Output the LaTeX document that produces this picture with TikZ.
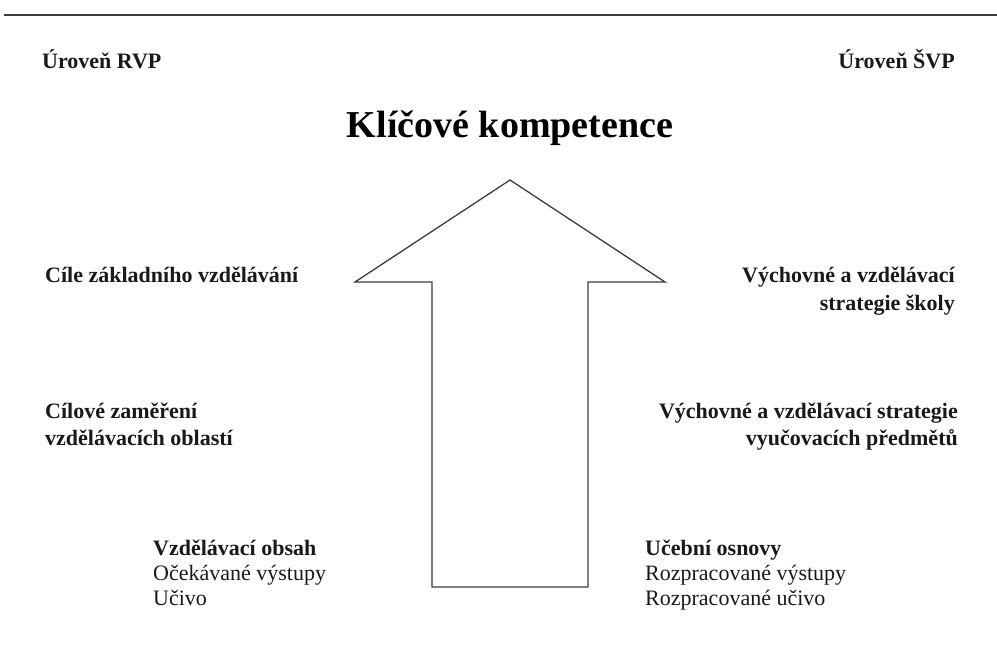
\documentclass[tikz,border=0pt]{standalone}
\usepackage{fontspec}
\setmainfont{Liberation Serif}
\usepackage{tikz}
\usetikzlibrary{positioning}
\definecolor{lvline}{RGB}{60, 60, 60}
\definecolor{lvtext}{RGB}{25, 25, 25}

\begin{document}
\begin{tikzpicture}[x=1pt, y=-1pt,
  level/.style={font=\fontsize{22}{26}\selectfont\bfseries, text=lvtext, inner sep=0pt},
  goal/.style={font=\fontsize{22}{27}\selectfont\bfseries, text=lvtext, inner sep=0pt},
  content/.style={font=\fontsize{22}{25}\selectfont, text=lvtext, inner sep=0pt, align=left}]

  \useasboundingbox (0,0) rectangle (997,659);
  \draw[lvline, line width=2pt] (4,15) -- (997,15);

  % levels
  \node[level, anchor=base west] (rvp) at (42,68) {Úroveň RVP};
  \node[level, anchor=base east] (svp) at (955,68) {Úroveň ŠVP};
  \node[font=\fontsize{38}{40}\selectfont\bfseries, inner sep=0pt] (kk) at (510,128) {Klíčové kompetence};

  % arrow
  \coordinate (tip) at (510,180);
  \coordinate (wl) at (355,282);
  \coordinate (wr) at (665,282);
  \coordinate (sl) at (432,282);
  \coordinate (sr) at (588,282);
  \draw[lvline, line width=1.3pt, line join=miter]
    (tip) -- (wr) -- (sr) -- (sr |- 0,587) -- (sl |- 0,587) -- (sl) -- (wl) -- cycle;

  % left side (base = last line)
  \node[goal, anchor=base west] (cile) at (45,282) {Cíle základního vzdělávání};
  \node[goal, anchor=base west, align=left] (cilove) at (45,445) {Cílové zaměření\\vzdělávacích oblastí};
  \node[content, anchor=base west] (obsah) at (153,605)
    {\textbf{Vzdělávací obsah}\\Očekávané výstupy\\Učivo};

  % right side
  \node[goal, anchor=base east, align=right, font=\fontsize{22}{28}\selectfont\bfseries] (skola) at (955,310) {Výchovné a vzdělávací\\strategie školy};
  \node[goal, anchor=base east, align=right] (predmety) at (958,445) {Výchovné a vzdělávací strategie\\vyučovacích předmětů};
  \node[content, anchor=base west] (osnovy) at (645,605)
    {\textbf{Učební osnovy}\\Rozpracované výstupy\\Rozpracované učivo};
\end{tikzpicture}
\end{document}
